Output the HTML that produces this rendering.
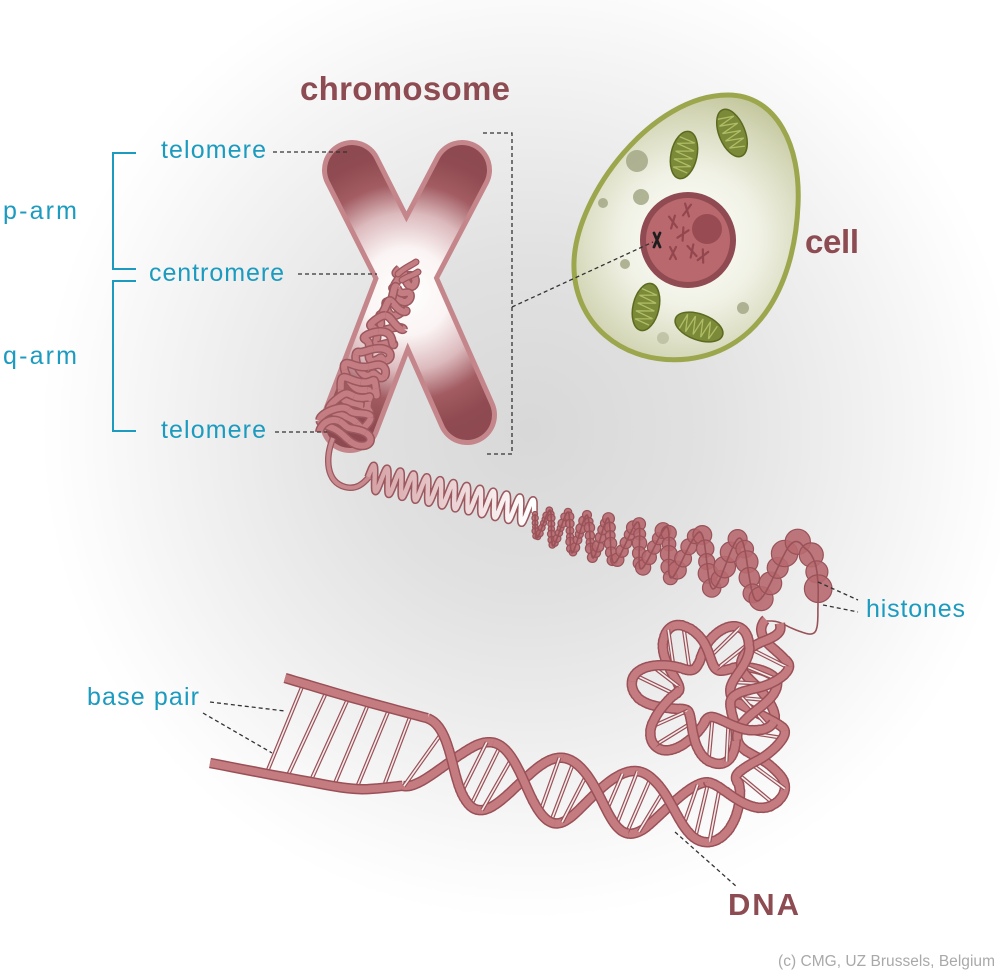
<!DOCTYPE html>
<html><head><meta charset="utf-8">
<style>html,body{margin:0;padding:0;background:#fff;}svg{display:block;}</style>
</head>
<body>
<svg id="s" xmlns="http://www.w3.org/2000/svg" width="1000" height="973" viewBox="0 0 1000 973">
<defs>
<radialGradient id="bg" gradientUnits="userSpaceOnUse" cx="530" cy="430" r="490">
<stop offset="0" stop-color="#d8d8d8"/><stop offset="0.35" stop-color="#e1e1e1"/><stop offset="0.65" stop-color="#efefef"/><stop offset="0.9" stop-color="#fbfbfb"/><stop offset="1" stop-color="#ffffff"/>
</radialGradient>
<radialGradient id="xg" gradientUnits="userSpaceOnUse" cx="406" cy="292" r="175">
<stop offset="0" stop-color="#ffffff"/><stop offset="0.25" stop-color="#fbf4f4"/><stop offset="0.45" stop-color="#dcbabd"/><stop offset="0.62" stop-color="#a25c62"/><stop offset="0.78" stop-color="#8f4b51"/><stop offset="1" stop-color="#8c4950"/>
</radialGradient>
<radialGradient id="cg" gradientUnits="userSpaceOnUse" cx="690" cy="238" r="150">
<stop offset="0" stop-color="#fdfdf9"/><stop offset="0.45" stop-color="#f1f2e6"/><stop offset="0.8" stop-color="#d6d8ba"/><stop offset="1" stop-color="#c3c79c"/>
</radialGradient>
<linearGradient id="spg" gradientUnits="userSpaceOnUse" x1="368" y1="0" x2="530" y2="0">
<stop offset="0" stop-color="#d5a0a4"/><stop offset="1" stop-color="#ffffff"/>
</linearGradient>
</defs>

<rect width="1000" height="973" fill="url(#bg)"/>

<!-- cell -->
<g id="cell">
<path d="M728,95 C776,95 801,145 798,205 C795,280 762,350 688,359 C622,366 572,322 574,262 C576,195 652,95 728,95 Z" fill="url(#cg)" stroke="#9ca64d" stroke-width="5"/>
<g fill="#a3a886" fill-opacity="0.85">
<circle cx="637" cy="161" r="11"/><circle cx="641" cy="197" r="8"/><circle cx="603" cy="203" r="5"/>
<circle cx="625" cy="264" r="5"/><circle cx="743" cy="308" r="6"/><circle cx="663" cy="338" r="6" fill-opacity="0.5"/>
</g>
<g transform="translate(684,155) rotate(12)"><ellipse rx="13" ry="24" fill="#7b8a38" stroke="#5c6a20" stroke-width="1.5"/><path d="M-8,-17 L8,-14 L-9,-10 L9,-6 L-9,-2 L9,2 L-9,6 L9,10 L-8,14 L7,17" fill="none" stroke="#b0bd66" stroke-width="1.3"/></g>
<g transform="translate(732,133) rotate(-22)"><ellipse rx="13" ry="25" fill="#7b8a38" stroke="#5c6a20" stroke-width="1.5"/><path d="M-8,-18 L8,-15 L-9,-11 L9,-7 L-9,-3 L9,1 L-9,5 L9,9 L-8,13 L7,17" fill="none" stroke="#b0bd66" stroke-width="1.3"/></g>
<g transform="translate(646,307) rotate(13)"><ellipse rx="13" ry="24" fill="#7b8a38" stroke="#5c6a20" stroke-width="1.5"/><path d="M-8,-17 L8,-14 L-9,-10 L9,-6 L-9,-2 L9,2 L-9,6 L9,10 L-8,14 L7,17" fill="none" stroke="#b0bd66" stroke-width="1.3"/></g>
<g transform="translate(699,327) rotate(-70)"><ellipse rx="13" ry="25" fill="#7b8a38" stroke="#5c6a20" stroke-width="1.5"/><path d="M-8,-18 L8,-15 L-9,-11 L9,-7 L-9,-3 L9,1 L-9,5 L9,9 L-8,13 L7,17" fill="none" stroke="#b0bd66" stroke-width="1.3"/></g>
<circle cx="688" cy="240" r="45" fill="#b9686e" stroke="#904a51" stroke-width="6"/>
<circle cx="707" cy="229" r="15" fill="#984b52"/>
<g stroke="#94464e" stroke-width="2.2" fill="none" stroke-linecap="round">
<path transform="translate(687,210) rotate(10)" d="M-3,-6 L3,6 M3,-6 L-3,6"/>
<path transform="translate(673,222) rotate(-10)" d="M-3,-6 L3,6 M3,-6 L-3,6"/>
<path transform="translate(683,234) rotate(30)" d="M-3,-6 L3,6 M3,-6 L-3,6"/>
<path transform="translate(673,253) rotate(0)" d="M-3,-6 L3,6 M3,-6 L-3,6"/>
<path transform="translate(692,251) rotate(-15)" d="M-3,-6 L3,6 M3,-6 L-3,6"/>
<path transform="translate(703,256) rotate(25)" d="M-3,-6 L3,6 M3,-6 L-3,6"/>
</g>
<path transform="translate(657,240)" d="M-3,-7 L3,7 M3,-7 L-3,7" stroke="#1e1e1e" stroke-width="2.8" fill="none" stroke-linecap="round"/>
</g>

<!-- chromosome X -->
<g id="xchrom" stroke-linecap="round">
<g stroke="#c4868a" stroke-width="60">
<line x1="406" y1="277" x2="352" y2="170"/><line x1="406" y1="277" x2="462" y2="170"/>
<line x1="406" y1="277" x2="350" y2="423"/><line x1="406" y1="277" x2="467" y2="415"/>
</g>
<g stroke="url(#xg)" stroke-width="50">
<line x1="406" y1="277" x2="352" y2="170"/><line x1="406" y1="277" x2="462" y2="170"/>
<line x1="406" y1="277" x2="350" y2="423"/><line x1="406" y1="277" x2="467" y2="415"/>
</g>
</g>

<g id="tangle"></g>
<g id="spring"></g>
<g id="beads"></g>
<g id="dna"></g>

<!-- leader lines -->
<g fill="none" stroke="#333" stroke-width="1.3" stroke-dasharray="4,3">
<path d="M273,152 H350"/>
<path d="M298,274 H377"/>
<path d="M275,432 H327"/>
<path d="M483,133 H512 V454 H486"/>
<path d="M512,307 L653,242"/>
<path d="M818,582 L858,600"/>
<path d="M823,605 L858,612"/>
<path d="M210,702 L285,711"/>
<path d="M203,713 L272,753"/>
<path d="M675,832 L737,887"/>
</g>
<g fill="none" stroke="#1b9bbf" stroke-width="2">
<path d="M136,153 H113 V269 H136"/>
<path d="M136,281 H113 V431 H136"/>
</g>

<!-- labels -->
<g font-family="'Liberation Sans', Arial, sans-serif" fill="#1b9bbf" font-size="25">
<text x="161" y="158" textLength="105">telomere</text>
<text x="149" y="281" textLength="135">centromere</text>
<text x="161" y="438" textLength="105">telomere</text>
<text x="3" y="219" textLength="74">p-arm</text>
<text x="3" y="364" textLength="74">q-arm</text>
<text x="866" y="617" textLength="99">histones</text>
<text x="87" y="705" textLength="112">base pair</text>
</g>
<g font-family="'Liberation Sans', Arial, sans-serif" fill="#8d4b52" font-weight="bold">
<text x="300" y="100" font-size="33" textLength="210">chromosome</text>
<text x="805" y="253" font-size="33" textLength="54">cell</text>
<text x="728" y="915" font-size="31" textLength="71">DNA</text>
</g>
<text x="778" y="966" font-family="'Liberation Sans', Arial, sans-serif" font-size="15.5" fill="#a9a9a9" textLength="217">(c) CMG, UZ Brussels, Belgium</text>
</svg>

<script>
(function(){
var NS='http://www.w3.org/2000/svg';
function el(p,t,a){var e=document.createElementNS(NS,t);for(var k in a)e.setAttribute(k,a[k]);p.appendChild(e);return e;}
function d(pts){var s='M'+pts[0][0].toFixed(1)+' '+pts[0][1].toFixed(1);for(var i=1;i<pts.length;i++)s+='L'+pts[i][0].toFixed(1)+' '+pts[i][1].toFixed(1);return s;}
function cr(P,n){var o=[];for(var i=0;i<P.length-1;i++){var p0=P[Math.max(i-1,0)],p1=P[i],p2=P[i+1],p3=P[Math.min(i+2,P.length-1)];for(var j=0;j<n;j++){var t=j/n,t2=t*t,t3=t2*t;var f=function(k){return 0.5*(2*p1[k]+(-p0[k]+p2[k])*t+(2*p0[k]-5*p1[k]+4*p2[k]-p3[k])*t2+(-p0[k]+3*p1[k]-3*p2[k]+p3[k])*t3);};o.push([f(0),f(1)]);}}o.push(P[P.length-1].slice());return o;}
function rs(P,step){var c=[0];for(var i=1;i<P.length;i++)c.push(c[i-1]+Math.hypot(P[i][0]-P[i-1][0],P[i][1]-P[i-1][1]));var L=c[c.length-1];var o=[];var j=0;for(var s=0;s<=L;s+=step){while(j<P.length-2&&c[j+1]<s)j++;var seg=(c[j+1]-c[j])||1;var f=(s-c[j])/seg;var dx=P[j+1][0]-P[j][0],dy=P[j+1][1]-P[j][1],h=Math.hypot(dx,dy)||1;o.push({x:P[j][0]+dx*f,y:P[j][1]+dy*f,tx:dx/h,ty:dy/h,s:s});}return {p:o,L:L};}

/* ---- chromatin tangle ---- */
var tg=document.getElementById('tangle');
var Q0=[408,270],Q1=[341,438];
var Lq=Math.hypot(Q1[0]-Q0[0],Q1[1]-Q0[1]);var ux=(Q1[0]-Q0[0])/Lq,uy=(Q1[1]-Q0[1])/Lq,vx=-uy,vy=ux;
var tp=[];var NT=11;var NS2=1400;
for(var i=0;i<=NS2;i++){var t=i/NS2;var w=2*Math.PI*NT*t;
 var a=7+4*t;
 var b=(7+16*t)*(1+0.2*Math.sin(2.3*w+1));
 var al=Lq*t+a*Math.sin(w)+3*Math.sin(3.1*w+0.5);
 var pe=b*Math.cos(w)+3.5*Math.sin(1.9*w);
 tp.push([Q0[0]+ux*al+vx*pe,Q0[1]+uy*al+vy*pe]);}
var CH=32;
for(var i=0;i<tp.length-1;i+=CH){var seg=tp.slice(i,Math.min(i+CH+1,tp.length));
 el(tg,'path',{d:d(seg),fill:'none',stroke:'#9b585e','stroke-width':9,'stroke-linejoin':'round'});
 el(tg,'path',{d:d(seg),fill:'none',stroke:'#c47d82','stroke-width':6,'stroke-linejoin':'round'});}
var bits=['M398,274 C404,268 410,266 416,262','M402,280 C408,276 412,276 418,272'];
for(var i=0;i<bits.length;i++){el(tg,'path',{d:bits[i],fill:'none',stroke:'#9b585e','stroke-width':7,'stroke-linecap':'round'});el(tg,'path',{d:bits[i],fill:'none',stroke:'#c47d82','stroke-width':4.5,'stroke-linecap':'round'});}
var tail='M333,438 C325,458 326,482 345,487 C356,490 363,484 369,477';
el(tg,'path',{d:tail,fill:'none',stroke:'#9b585e','stroke-width':6.5});
el(tg,'path',{d:tail,fill:'none',stroke:'#c98a8f','stroke-width':4});

/* ---- solenoid spring ---- */
var sg=document.getElementById('spring');
var spp=[[368,477]];
for(var i=0;i<=1500;i++){var t=i/1500;var w=2*Math.PI*12.5*t;var cx=368+166*t,cy=477+36*t;spp.push([cx+2.5*Math.sin(w),cy-12.5*Math.sin(w)]);}
el(sg,'path',{d:d(spp),fill:'none',stroke:'#9b585e','stroke-width':7.5,'stroke-linejoin':'round'});
el(sg,'path',{d:d(spp),fill:'none',stroke:'url(#spg)','stroke-width':4.4,'stroke-linejoin':'round'});

/* ---- beads on a string ---- */
var bg=document.getElementById('beads');
var S=[[535,514],[537,538],[550,510],[553,546],[568,512],[572,553],[587,515],[593,558],[608,518],[614,563],[638,522],[641,569],[667,527],[671,578],[700,532],[713,589],[740,538],[757,601],[790,545],[806,549],[815,563],[818,584],[818,605]];
var T=[[818,605],[817,627],[811,634],[796,630],[778,622],[766,621]];
var sc=cr(S,14);var sr=rs(sc,1);
var sv=0,kk=0;
while(sv<sr.L){var q=sr.p[Math.min(Math.round(sv),sr.p.length-1)];
 var f=Math.max(0,Math.min(1,(q.x-537)/281));
 var r=(3+10*f)*(0.85+0.3*((kk*37)%10)/10);kk++;
 el(bg,'circle',{cx:q.x.toFixed(1),cy:q.y.toFixed(1),r:r.toFixed(1),fill:'#b7696f','fill-opacity':0.9,stroke:'#985258','stroke-width':1.2});
 sv+=Math.max(3,r*1.5);}
var all=sc.concat(cr(T,10));
el(bg,'path',{d:d(all),fill:'none',stroke:'#985258','stroke-width':1.6});

/* ---- DNA ---- */
var dg=document.getElementById('dna');
var axis=[[415,752],[470,772],[530,786],[590,795],[650,805],[712,812],[752,797],[764,765],[760,728],[755,692],[740,657],[705,642],[670,657],[655,692],[670,727],[705,742],[740,727],[761,692],[766,655],[770,632],[773,621]];
var ap=rs(cr(axis,20),1);
var th=-Math.PI/2;var A=[],B=[];
for(var i=0;i<ap.p.length;i++){var q=ap.p[i];var s=q.s;var R,pitch;
 if(s<300){R=36-6*s/300;pitch=150;}else if(s<380){var f=(s-300)/80;R=30-6*f;pitch=150-54*f;}else{R=24;pitch=96;}
 if(s>ap.L-25){R*=((ap.L-s)/25)*0.7+0.3;}
 var nx=-q.ty,ny=q.tx;var sn=Math.sin(th),cs=Math.cos(th);var k=0.1*R;
 var ox=R*sn*nx+q.tx*k*cs, oy=R*sn*ny+q.ty*k*cs;
 A.push({x:q.x+ox,y:q.y+oy,dp:cs,sn:sn});
 B.push({x:q.x-ox,y:q.y-oy,dp:-cs,sn:sn});
 th+=2*Math.PI/pitch;}
var OC='#9a5057',FC='#c47c81',OW=10.5,FW=7.5;
function ribbon(p,pts){el(p,'path',{d:d(pts),fill:'none',stroke:OC,'stroke-width':OW,'stroke-linejoin':'round'});el(p,'path',{d:d(pts),fill:'none',stroke:FC,'stroke-width':FW,'stroke-linejoin':'round'});}
function rung(p,x1,y1,x2,y2){el(p,'line',{x1:x1,y1:y1,x2:x2,y2:y2,stroke:OC,'stroke-width':4});el(p,'line',{x1:x1,y1:y1,x2:x2,y2:y2,stroke:'#f4ecec','stroke-width':1.6});}
function runs(Sx,front){var out=[];var cur=null;for(var i=0;i<Sx.length;i++){var fr=Sx[i].dp>=0;if(fr===front){if(!cur){cur=[];if(i>0)cur.push([Sx[i-1].x,Sx[i-1].y]);}cur.push([Sx[i].x,Sx[i].y]);}else if(cur){cur.push([Sx[i].x,Sx[i].y]);out.push(cur);cur=null;}}if(cur)out.push(cur);return out;}
/* ladder */
var LR=[[302,687,267,772],[325,695,288,775],[347,701,312,778],[367,707,335,783],[388,712,357,787],[410,717,385,783]];
for(var i=0;i<LR.length;i++){var r=LR[i];rung(dg,r[0],r[1],r[2],r[3]);}
ribbon(dg,cr([[285,678],[360,700],[A[0].x,A[0].y]],10));
ribbon(dg,cr([[210,763],[300,780],[357,789],[B[0].x,B[0].y]],10));
/* back */
var bA=runs(A,false),bB=runs(B,false);
for(var i=0;i<bA.length;i++)if(bA[i].length>1)ribbon(dg,bA[i]);
for(var i=0;i<bB.length;i++)if(bB[i].length>1)ribbon(dg,bB[i]);
/* rungs: parallel, slanted "/" */
var DL=7;
for(var i=DL+2;i<A.length-DL-1;i+=13){
 var s1=A[i+DL].sn, s0=A[i-DL].sn;
 if(Math.abs(s1)<0.35||Math.abs(s0)<0.35||(s1>0)!==(s0>0))continue;
 var up,lo;
 if(A[i].sn<0){up=A[i+DL];lo=B[i-DL];}else{up=B[i+DL];lo=A[i-DL];}
 rung(dg,up.x.toFixed(1),up.y.toFixed(1),lo.x.toFixed(1),lo.y.toFixed(1));}
/* front */
var fA=runs(A,true),fB=runs(B,true);
for(var i=0;i<fA.length;i++)if(fA[i].length>1)ribbon(dg,fA[i]);
for(var i=0;i<fB.length;i++)if(fB[i].length>1)ribbon(dg,fB[i]);
})();
</script>
</body></html>
